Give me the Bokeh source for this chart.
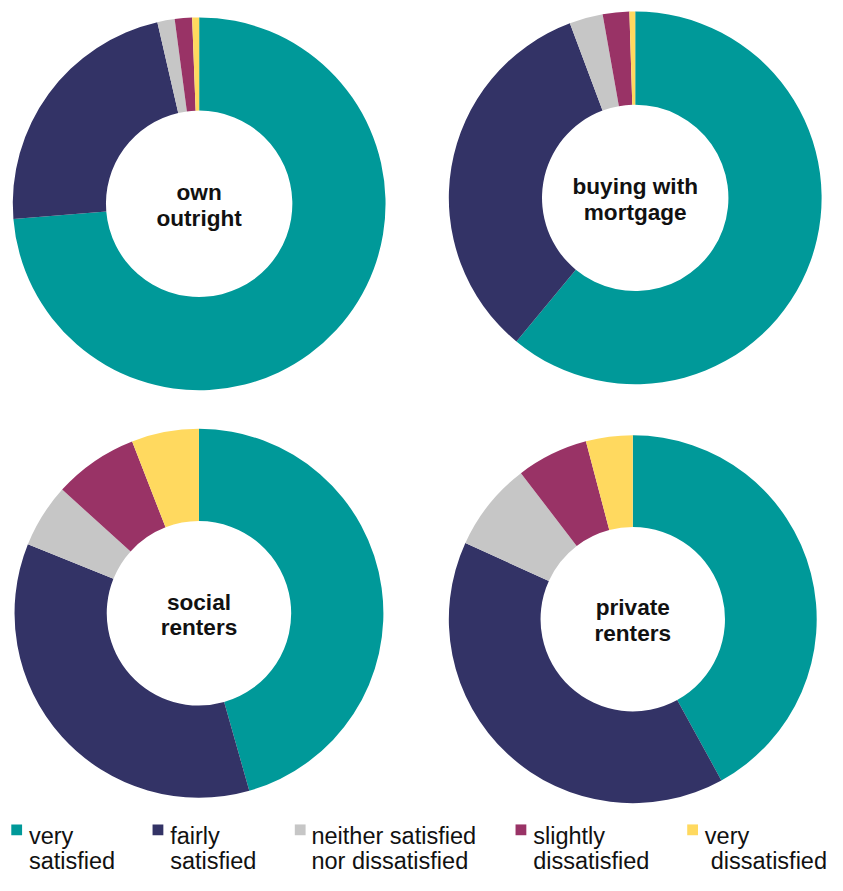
import numpy as np
from bokeh.plotting import figure
from bokeh.models import Range1d
from bokeh.core.properties import value
from bokeh.embed import file_html
from bokeh.resources import INLINE

# ---- data ----
categories = ["very satisfied", "fairly satisfied", "neither satisfied nor dissatisfied",
              "slightly dissatisfied", "very dissatisfied"]
legend_lines = [["very", "satisfied"], ["fairly", "satisfied"], ["neither satisfied", "nor dissatisfied"],
                ["slightly", "dissatisfied"], ["very", "dissatisfied"]]
colors = ["#009999", "#333366", "#C6C6C6", "#993366", "#FFD95F"]

groups = ["own outright", "buying with mortgage", "social renters", "private renters"]
group_labels = [["own", "outright"], ["buying with", "mortgage"], ["social", "renters"], ["private", "renters"]]
own_outright = [73.7, 22.7, 1.5, 1.5, 0.6]
buying_with_mortgage = [61.0, 33.3, 2.9, 2.3, 0.5]
social_renters = [45.6, 35.5, 5.6, 7.4, 5.9]
private_renters = [42.0, 39.8, 7.8, 6.3, 4.1]
series = [own_outright, buying_with_mortgage, social_renters, private_renters]

# ---- layout (reference-pixel data space; y measured from bottom) ----
W, H = 843, 891
FW, FH = 827, 875
S = FW / W
centers = [(202.5, 207), (647, 201), (202.3, 624), (644.5, 630)]
outer_r = [190, 190, 188, 187.5]
inner_r = [95, 95, 94, 94]
TXT_OFF = 6.5  # compensate SVG baseline placement

p = figure(width=FW, height=FH, output_backend="svg", toolbar_location=None,
           x_range=Range1d(0, W), y_range=Range1d(0, H),
           min_border=0, min_border_left=0, min_border_right=0,
           min_border_top=0, min_border_bottom=0)
p.axis.visible = False
p.grid.visible = False
p.outline_line_color = None
p.background_fill_color = "white"
p.border_fill_color = "white"

lab_size = f"{23 * S:.1f}px"
leg_size = f"{24 * S:.1f}px"

for (cx, cy), ro, ri, vals, lab in zip(centers, outer_r, inner_r, series, group_labels):
    v = np.array(vals, dtype=float)
    frac = v / v.sum()
    cum = np.concatenate([[0], np.cumsum(frac)])
    start = np.pi / 2 - 2 * np.pi * cum[:-1]   # clockwise from 12 o'clock
    end = np.pi / 2 - 2 * np.pi * cum[1:]
    y = H - cy
    p.annular_wedge(x=[cx] * len(v), y=[y] * len(v), inner_radius=ri, outer_radius=ro,
                    start_angle=list(end), end_angle=list(start), direction="anticlock",
                    fill_color=colors, line_color=None)
    p.text(x=[cx, cx], y=[y + 5 + TXT_OFF, y - 21 + TXT_OFF], text=lab, text_align="center",
           text_baseline="alphabetic", text_font=value("Liberation Sans"),
           text_font_style="bold", text_font_size=lab_size, text_color="#111111")

# ---- legend ----
leg_sq_x = [11, 155, 300, 525, 700]
leg_tx_x = [29, 173, 317, 543, 718]
leg_tx2_x = [29, 173, 317, 543, 724]
for sx, tx, tx2, c, lines in zip(leg_sq_x, leg_tx_x, leg_tx2_x, colors, legend_lines):
    p.quad(left=[sx], right=[sx + 11], top=[H - 839], bottom=[H - 850],
           fill_color=c, line_color=None)
    p.text(x=[tx, tx2], y=[H - 857 + TXT_OFF, H - 883 + TXT_OFF], text=lines, text_align="left",
           text_baseline="alphabetic", text_font=value("Liberation Sans"),
           text_font_size=leg_size, text_color="#111111")

open("out.html", "w").write(file_html(p, INLINE))
